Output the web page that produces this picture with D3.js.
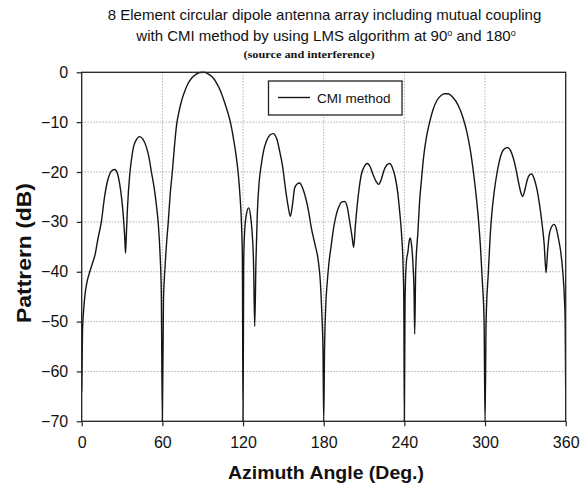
<!DOCTYPE html>
<html>
<head>
<meta charset="utf-8">
<script src="https://cdn.jsdelivr.net/npm/d3@7/dist/d3.min.js"></script>
<style>
  html, body { margin: 0; padding: 0; background: #fff; }
  svg { display: block; }
  text { font-family: "Liberation Sans", Arial, sans-serif; fill: #111; }
</style>
</head>
<body>
<svg id="chart" width="585" height="488"></svg>
<script>
// Azimuth angle (deg) and array pattern (dB), CMI method
const azimuth = [
  0, 0.6, 1.5, 2.5, 4, 6, 8, 10, 12, 14.6, 17, 19, 21, 23, 24.5, 26.5, 28.3, 29.8, 31, 32, 32.6,
  33.3, 34, 35.7, 37, 38.5, 40.5, 43, 45.5, 48, 50, 51.8, 53.8, 55.5, 57, 58.2, 59.2, 60,
  60.8, 62, 63.2, 64.4, 65.8, 67.4, 69, 70.7, 72.3, 74, 76.5, 79, 82, 85, 88, 91,
  94, 97, 100, 103, 106, 108.5, 111, 113, 115, 116.5, 117.8, 118.8, 119.5, 120,
  120.5, 121.2, 122.5, 124.2, 125.6, 126.7, 127.8, 128.7, 129.6, 130.6, 132, 133.6, 135.5, 137.3,
  140, 142.3, 145, 147.3, 149.5, 151.5, 153.5, 155.2, 156.8, 158.4, 160.2, 162.1, 164, 165.9,
  168.5, 170.8, 173.5, 175.8, 177.5, 178.7, 179.5, 180,
  180.6, 181.5, 182.7, 184, 185.7, 187.5, 189.4, 191.5, 193.5, 195.6, 197.5, 199.3, 201, 202.3,
  203.5, 205, 206.5, 208, 210, 212.5, 214.5, 216.7, 218.8, 220.9, 222.8, 224.8, 227, 229.1,
  231.2, 233.3, 235, 236.5, 237.8, 239, 239.6, 240,
  240.5, 241.5, 242.7, 243.6, 244.4, 245.3, 246.4, 247.2, 247.7, 248.4, 250.1, 251.3, 252.6,
  254.3, 256.3, 258.8, 261.3, 264.3, 267.5, 270, 272.5, 276, 280, 283.5, 286.5, 289, 291.3,
  293.3, 295, 296.6, 298, 299.3, 300,
  300.8, 302.5, 303.8, 305, 306.8, 308.7, 310.5, 312.4, 314.6, 316.9, 319, 321, 323, 324.8,
  326.5, 328, 329.7, 331.5, 333, 334.7, 336.5, 338.4, 340.4, 342.2, 344, 345.4, 346.5, 347.8,
  349.5, 351.3, 353, 354.5, 356.3, 357.8, 359, 359.6, 360
];
const patternDb = [
  -64, -52, -47.5, -44.5, -42, -40, -38.3, -36.5, -33.5, -30, -25, -22, -20.3, -19.6, -19.5, -20.2, -22.5, -25.5, -29, -33, -36.3,
  -32, -27.5, -20.6, -17.5, -15, -13.6, -12.9, -13.4, -14.9, -17, -19.9, -23, -26.5, -30.5, -36, -44, -70,
  -46, -39, -34, -30, -24.5, -20, -14.8, -10.3, -8, -6, -3.9, -2.3, -1.1, -0.4, -0.05, 0,
  -0.3, -0.9, -2.0, -3.6, -5.8, -7.9, -10.5, -13.5, -17, -20.5, -25, -30, -37, -70,
  -38, -31.9, -28.5, -27.2, -28.8, -31.9, -38, -51, -38, -28.5, -22, -18.5, -15.5, -13.9,
  -12.6, -12.3, -13.3, -15.9, -19, -23.2, -26.8, -28.9, -26.5, -23.2, -22.4, -22.2, -23, -24.5,
  -27.5, -31.2, -34.5, -37.5, -42, -49, -56, -70,
  -56, -47, -41.9, -38, -34.5, -31, -28.5, -26.8, -26, -25.9, -27, -29.9, -32.8, -35.1,
  -31, -26.5, -23, -20.5, -19, -18.3, -18.9, -20.5, -21.8, -22.5, -21.5, -19.7, -18.6, -18.3,
  -19.2, -21.2, -24, -27.9, -32, -38.5, -46, -70,
  -46, -38, -35.9, -33.8, -33.2, -34.5, -38.5, -44, -52.5, -40, -31.9, -26, -21.9,
  -17, -13.2, -10, -7.5, -5.6, -4.6, -4.3, -4.3, -5, -6.6, -9, -12, -15.5, -19.9,
  -24.5, -29.2, -35, -41.9, -50, -70,
  -50, -39.9, -33, -28.5, -24, -20.5, -18, -16.2, -15.3, -15.1, -15.7, -17.2, -19.4, -21.9,
  -24, -24.9, -23.5, -21.5, -20.6, -20.4, -21.3, -23.2, -26.3, -29.9, -34.5, -40.2, -36, -32.5,
  -31, -30.5, -31.3, -33.2, -36, -39.9, -45, -50, -64
];
const xTicks = [0, 60, 120, 180, 240, 300, 360];
const yTicks = [0, -10, -20, -30, -40, -50, -60, -70];
const seriesName = "CMI method";
const titleLine1 = "8 Element circular dipole antenna array including mutual coupling";
const titleLine3 = "(source and interference)";
const xLabel = "Azimuth Angle (Deg.)";
const yLabel = "Pattrern (dB)";

const svg = d3.select("#chart");
const plot = { left: 81.7, right: 565.7, top: 72.3, bottom: 421.3 };

const x = d3.scaleLinear().domain([0, 360]).range([plot.left, plot.right]);
const y = d3.scaleLinear().domain([-70, 0]).range([plot.bottom, plot.top]);

// dotted grid
const grid = svg.append("g").attr("stroke", "#8a8a8a").attr("stroke-width", 1).attr("stroke-dasharray", "1,2");
grid.selectAll("line.v").data(xTicks.slice(1, -1)).join("line")
  .attr("x1", d => x(d)).attr("x2", d => x(d)).attr("y1", plot.top).attr("y2", plot.bottom);
grid.selectAll("line.h").data(yTicks.slice(1, -1)).join("line")
  .attr("x1", plot.left).attr("x2", plot.right).attr("y1", d => y(d)).attr("y2", d => y(d));

// pattern curve
svg.append("clipPath").attr("id", "plotClip").append("rect")
  .attr("x", plot.left).attr("y", plot.top - 2)
  .attr("width", plot.right - plot.left).attr("height", plot.bottom - plot.top + 2);

const points = azimuth.map((a, i) => [a, patternDb[i]]);
const line = d3.line().x(d => x(d[0])).y(d => y(d[1])).curve(d3.curveMonotoneX);
svg.append("path")
  .datum(points)
  .attr("clip-path", "url(#plotClip)")
  .attr("fill", "none")
  .attr("stroke", "#151515")
  .attr("stroke-width", 1.4)
  .attr("stroke-linejoin", "round")
  .attr("d", line);

// frame
svg.append("rect")
  .attr("x", plot.left).attr("y", plot.top)
  .attr("width", plot.right - plot.left).attr("height", plot.bottom - plot.top)
  .attr("fill", "none").attr("stroke", "#222").attr("stroke-width", 1.3);

// axes
const yAxis = svg.append("g")
  .attr("transform", `translate(${plot.left},0)`)
  .call(d3.axisLeft(y).tickValues(yTicks).tickSize(5).tickPadding(8.5).tickFormat(d3.format("d")));
const xAxis = svg.append("g")
  .attr("transform", `translate(0,${plot.bottom})`)
  .call(d3.axisBottom(x).tickValues(xTicks).tickSize(5).tickPadding(10.3).tickFormat(d3.format("d")));
[xAxis, yAxis].forEach(g => {
  g.select(".domain").remove();
  g.selectAll(".tick line").attr("stroke", "#222").attr("stroke-width", 1.2);
  g.selectAll(".tick text").attr("fill", "#111")
    .style("font-family", '"Liberation Sans", Arial, sans-serif').style("font-size", "16px");
});

// legend
const legend = svg.append("g");
legend.append("rect").attr("x", 268.5).attr("y", 81).attr("width", 133.5).attr("height", 34)
  .attr("fill", "#fff").attr("stroke", "#222").attr("stroke-width", 1.3);
legend.append("line").attr("x1", 278).attr("x2", 310).attr("y1", 97.5).attr("y2", 97.5)
  .attr("stroke", "#151515").attr("stroke-width", 1.4);
legend.append("text").attr("x", 317).attr("y", 102.5)
  .style("font-size", "13.5px").text(seriesName);

// titles
svg.append("text").attr("x", 324.5).attr("y", 19.5).attr("text-anchor", "middle")
  .style("font-size", "15px").text(titleLine1);
const t2 = svg.append("text").attr("x", 326).attr("y", 41).attr("text-anchor", "middle")
  .style("font-size", "15px");
t2.append("tspan").text("with CMI method by using LMS algorithm at 90");
t2.append("tspan").attr("dy", -5).style("font-size", "9px").text("o");
t2.append("tspan").attr("dy", 5).text(" and 180");
t2.append("tspan").attr("dy", -5).style("font-size", "9px").text("o");
svg.append("text").attr("x", 309).attr("y", 58).attr("text-anchor", "middle")
  .style("font-family", '"Liberation Serif", "Times New Roman", serif')
  .style("font-weight", "bold").style("font-size", "11px")
  .attr("textLength", 131).attr("lengthAdjust", "spacingAndGlyphs")
  .text(titleLine3);

// axis titles
svg.append("text").attr("x", 326).attr("y", 479).attr("text-anchor", "middle")
  .style("font-weight", "bold").style("font-size", "18.5px")
  .attr("textLength", 196).attr("lengthAdjust", "spacingAndGlyphs")
  .text(xLabel);
svg.append("text").attr("transform", "translate(31,253) rotate(-90)").attr("text-anchor", "middle")
  .style("font-weight", "bold").style("font-size", "20px")
  .attr("textLength", 140).attr("lengthAdjust", "spacingAndGlyphs")
  .text(yLabel);
</script>
</body>
</html>
